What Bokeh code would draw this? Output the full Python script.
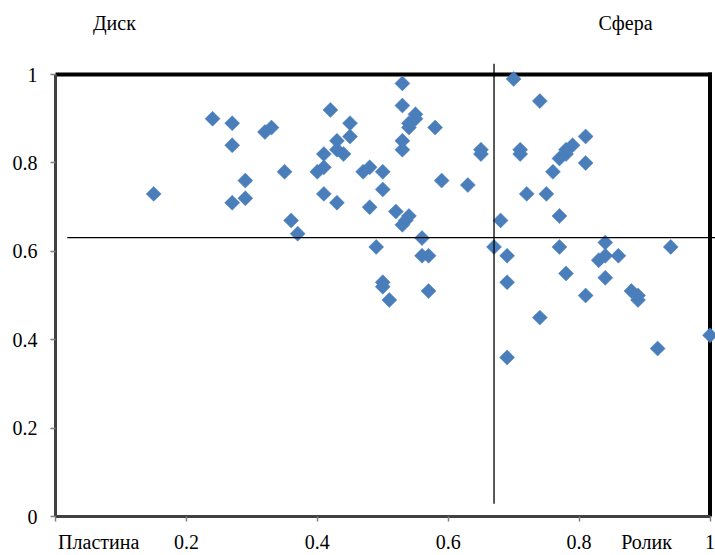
from bokeh.plotting import figure
from bokeh.models import Arrow, FixedTicker, CustomJSTickFormatter, Range1d, LinearAxis
from bokeh.embed import file_html
from bokeh.resources import INLINE

# ---- data ----
xs = [0.15, 0.24, 0.27, 0.27, 0.29, 0.27, 0.29, 0.32, 0.33, 0.35, 0.36, 0.37,
      0.40, 0.41, 0.41, 0.41, 0.42, 0.43, 0.43, 0.44, 0.45, 0.45, 0.43,
      0.47, 0.48, 0.50, 0.50, 0.48, 0.52, 0.54, 0.53, 0.535,
      0.53, 0.53, 0.55, 0.55, 0.54, 0.54, 0.58, 0.53, 0.53, 0.59, 0.63, 0.65, 0.65,
      0.49, 0.56, 0.56, 0.57, 0.50, 0.50, 0.51, 0.57,
      0.67, 0.68, 0.69, 0.69, 0.69, 0.70, 0.74, 0.71, 0.71, 0.72, 0.75, 0.76,
      0.77, 0.78, 0.78, 0.79, 0.81, 0.81, 0.77, 0.77, 0.78, 0.74, 0.81,
      0.84, 0.84, 0.83, 0.86, 0.84, 0.88, 0.89, 0.89, 0.94, 0.92, 1.00]
ys = [0.73, 0.90, 0.89, 0.84, 0.76, 0.71, 0.72, 0.87, 0.88, 0.78, 0.67, 0.64,
      0.78, 0.79, 0.82, 0.73, 0.92, 0.85, 0.83, 0.82, 0.89, 0.86, 0.71,
      0.78, 0.79, 0.78, 0.74, 0.70, 0.69, 0.68, 0.66, 0.67,
      0.98, 0.93, 0.91, 0.90, 0.89, 0.88, 0.88, 0.85, 0.83, 0.76, 0.75, 0.83, 0.82,
      0.61, 0.63, 0.59, 0.59, 0.53, 0.52, 0.49, 0.51,
      0.61, 0.67, 0.59, 0.53, 0.36, 0.99, 0.94, 0.83, 0.82, 0.73, 0.73, 0.78,
      0.81, 0.82, 0.83, 0.84, 0.86, 0.80, 0.68, 0.61, 0.55, 0.45, 0.50,
      0.62, 0.59, 0.58, 0.59, 0.54, 0.51, 0.50, 0.49, 0.61, 0.38, 0.41]

x_tick_marks = [0, 0.2, 0.4, 0.6, 0.8, 1.0]
x_label_pos = [0.066, 0.2, 0.4, 0.6, 0.8, 0.903, 1.0]
x_label_text = ["Пластина", "0.2", "0.4", "0.6", "0.8", "Ролик", "1"]
y_ticks = [0, 0.2, 0.4, 0.6, 0.8, 1.0]
y_tick_labels = ["0", "0.2", "0.4", "0.6", "0.8", "1"]
top_label_pos = [0.090, 0.871]
top_label_text = ["Диск", "Сфера"]

axis_min, axis_max = 0.0, 1.0   # plot-area box of the original chart
view_x_max = 1.0084             # canvas reaches a little past the box
view_y_max = 1.025

split_x = 0.67                  # vertical divider
split_y = 0.631                 # horizontal divider
h_line_x = [0.018, 1.0084]      # extent of horizontal divider
v_line_y = [0.029, 1.025]       # extent of vertical divider

FONT = "'Liberation Serif'"
FSIZE = "20px"
BLUE = "#4A7EBB"

p = figure(width=715, height=555, output_backend="svg", toolbar_location=None,
           x_range=Range1d(axis_min, view_x_max), y_range=Range1d(axis_min, view_y_max),
           min_border_left=55, min_border_right=0, min_border_top=63, min_border_bottom=37)
p.background_fill_color = "white"
p.border_fill_color = "white"
p.xgrid.visible = False
p.ygrid.visible = False
p.outline_line_color = None

def fmt(tvals, tlabels):
    return CustomJSTickFormatter(args=dict(tvals=tvals, tlabels=tlabels), code="""
        for (let i = 0; i < tvals.length; i++) {
            if (Math.abs(tvals[i] - tick) < 1e-9) return tlabels[i];
        }
        return "";
    """)

def style_labels(ax):
    ax.major_label_text_font = FONT
    ax.major_label_text_font_size = FSIZE
    ax.major_label_text_color = "black"

# bottom axis: tick marks as minor ticks, labels (incl. corner words) as major ticks
xa = p.xaxis[0]
xa.bounds = (axis_min, axis_max)
xa.ticker = FixedTicker(ticks=x_label_pos, minor_ticks=x_tick_marks)
xa.formatter = fmt(x_label_pos, x_label_text)
xa.axis_line_color = "#404040"
xa.axis_line_width = 3
xa.major_tick_line_color = None
xa.major_tick_out = 5
xa.major_tick_in = 0
xa.minor_tick_line_color = "#808080"
xa.minor_tick_line_width = 1.5
xa.minor_tick_out = 5
xa.minor_tick_in = 0
xa.major_label_standoff = 9
style_labels(xa)

ya = p.yaxis[0]
ya.bounds = (axis_min, axis_max)
ya.ticker = FixedTicker(ticks=y_ticks, minor_ticks=[])
ya.formatter = fmt(y_ticks, y_tick_labels)
ya.axis_line_color = "#404040"
ya.axis_line_width = 3
ya.major_tick_line_color = "#808080"
ya.major_tick_line_width = 1.5
ya.major_tick_out = 5
ya.major_tick_in = 0
ya.minor_tick_line_color = None
ya.major_label_standoff = 13
style_labels(ya)

# top words
ta = LinearAxis(ticker=FixedTicker(ticks=top_label_pos, minor_ticks=[]),
                formatter=fmt(top_label_pos, top_label_text))
ta.axis_line_color = None
ta.major_tick_line_color = None
ta.minor_tick_line_color = None
ta.major_tick_out = 0
ta.major_tick_in = 0
ta.major_label_standoff = 30
style_labels(ta)
p.add_layout(ta, "above")

# thick top and right border of the plot area
p.segment(x0=[axis_min, axis_max], y0=[axis_max, axis_min],
          x1=[axis_max, axis_max], y1=[axis_max, axis_max],
          line_color="black", line_width=4, line_cap="square")

p.scatter(xs, ys, marker="square", angle=45, angle_units="deg", size=10.6,
          fill_color=BLUE, line_color=BLUE, line_width=0.5)

p.add_layout(Arrow(end=None, x_start=h_line_x[0], x_end=h_line_x[1],
                   y_start=split_y, y_end=split_y, line_color="black", line_width=1.3))
p.add_layout(Arrow(end=None, x_start=split_x, x_end=split_x,
                   y_start=v_line_y[0], y_end=v_line_y[1], line_color="black", line_width=1.3))

open("out.html", "w").write(file_html(p, INLINE))
